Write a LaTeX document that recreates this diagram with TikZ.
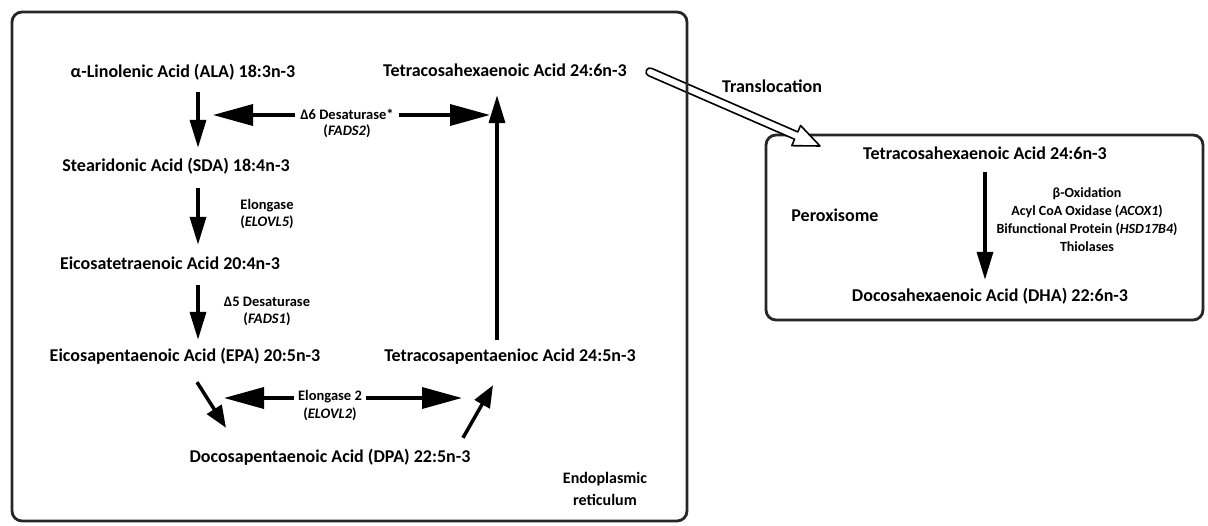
\documentclass[tikz,border=0pt]{standalone}
\usepackage{fontspec}
\setmainfont{Carlito}
\usetikzlibrary{arrows.meta,calc}
\begin{document}
\begin{tikzpicture}[x=1pt,y=-1pt,
  acid/.style={font=\fontsize{18}{20}\selectfont\bfseries, inner sep=1pt, text height=13pt, text depth=4pt},
  enz/.style={font=\fontsize{14.5}{17}\selectfont\bfseries, inner sep=1pt, align=center},
  lab/.style={font=\fontsize{18}{22}\selectfont\bfseries, inner sep=1pt, align=center},
  arr/.style={line width=3.5pt, -{Triangle[length=28pt,width=16pt]}},
  darr/.style={line width=3.5pt, -{Triangle[length=22pt,width=17pt]}},
  harr/.style={line width=3.5pt, -{Triangle[length=40pt,width=21pt]}},
  compbox/.style={line width=2.8pt, draw=black!85, rounded corners=10pt},
  ]
\useasboundingbox (0,0) rectangle (1208,526);
\fill[white] (0,0) rectangle (1208,526);

% peroxisome box
\draw[compbox] (766,135) rectangle (1203,320);

% acids in ER
\node[acid] (ala) at (183,73) {α-Linolenic Acid (ALA) 18:3n-3};
\node[acid] (thxa) at (505,72) {Tetracosahexaenoic Acid 24:6n-3};
\node[acid] (sda) at (176,167) {Stearidonic Acid (SDA) 18:4n-3};
\node[acid] (eta) at (170,265) {Eicosatetraenoic Acid 20:4n-3};
\node[acid] (epa) at (185,357) {Eicosapentaenoic Acid (EPA) 20:5n-3};
\node[acid] (tpa) at (510,357) {Tetracosapentaenioc Acid 24:5n-3};
\node[acid] (dpa) at (330,458) {Docosapentaenoic Acid (DPA) 22:5n-3};
\node[lab, font=\fontsize{16}{22}\selectfont\bfseries] (er) at (605,489) {Endoplasmic\\reticulum};

% peroxisome content
\node[acid] (thxb) at (985,155) {Tetracosahexaenoic Acid 24:6n-3};
\node[acid] (dha) at (990,297) {Docosahexaenoic Acid (DHA) 22:6n-3};
\node[lab] (perox) at (835,215) {Peroxisome};
\node[enz, font=\fontsize{14}{18}\selectfont\bfseries] (box) at (1087,220) {β-Oxidation\\Acyl CoA Oxidase (\textit{ACOX1})\\Bifunctional Protein (\textit{HSD17B4})\\Thiolases};

% vertical arrows
\draw[arr] ([xshift=15pt,yshift=-9.5pt]ala.south) -- ([xshift=22pt,yshift=9.5pt]sda.north);
\draw[arr] ([xshift=22pt,yshift=-11.5pt]sda.south) -- ([xshift=28pt,yshift=10.5pt]eta.north);
\draw[arr] ([xshift=28pt,yshift=-10.5pt]eta.south) -- ([xshift=13pt,yshift=7.5pt]epa.north);
\draw[arr] ([xshift=-13pt,yshift=7.5pt]tpa.north) -- ([xshift=-8pt,yshift=-13.5pt]thxa.south);
\draw[darr] ([xshift=12pt,yshift=-15.5pt]epa.south) -- ([xshift=-104pt,yshift=20.5pt]dpa.north);
\draw[darr] ([xshift=133pt,yshift=10.5pt]dpa.north) -- ([xshift=-17pt,yshift=-18.5pt]tpa.south);
\draw[arr] ([yshift=-7.5pt]thxb.south) -- ([xshift=-5pt,yshift=7.5pt]dha.north);

% enzyme labels
\node[enz] (elo) at (267,214) {Elongase\\(\textit{ELOVL5})};
\node[enz] (d5) at (267,311) {Δ5 Desaturase\\(\textit{FADS1})};

% delta-6 double arrow
\coordinate (d6l) at (213,115);
\coordinate (d6r) at (490,115);
\node[enz, inner xsep=5pt] (d6) at (347,114) {Δ6 Desaturase*};
\node[enz] (d6b) at (347,131) {(\textit{FADS2})};
\draw[harr] (d6l -| d6.west) -- (d6l);
\draw[harr] (d6r -| d6.east) -- (d6r);

% elongase 2 double arrow
\coordinate (e2l) at (224,398);
\coordinate (e2r) at (462,398);
\node[enz, inner xsep=4pt] (e2) at (330,397) {Elongase 2};
\node[enz] (e2b) at (330,414) {(\textit{ELOVL2})};
\draw[harr] (e2l -| e2.west) -- (e2l);
\draw[harr] (e2r -| e2.east) -- (e2r);

% translocation arrow (hollow)
\coordinate (ts) at (650,72);
\coordinate (tt) at (820,146);
\draw[line width=1.6pt, fill=white, line join=round]
  (648.4,75.66) -- (794.58,139.26) -- (791.78,145.68) -- (tt)
  -- (800.58,125.52) -- (797.78,131.94) -- (651.6,68.34)
  arc[start angle=-66.4, end angle=-246.4, radius=4] -- cycle;
\node[lab] (tr) at (772,86) {Translocation};

% ER box
\draw[compbox] (12,12) rectangle (687,521);
\end{tikzpicture}
\end{document}
